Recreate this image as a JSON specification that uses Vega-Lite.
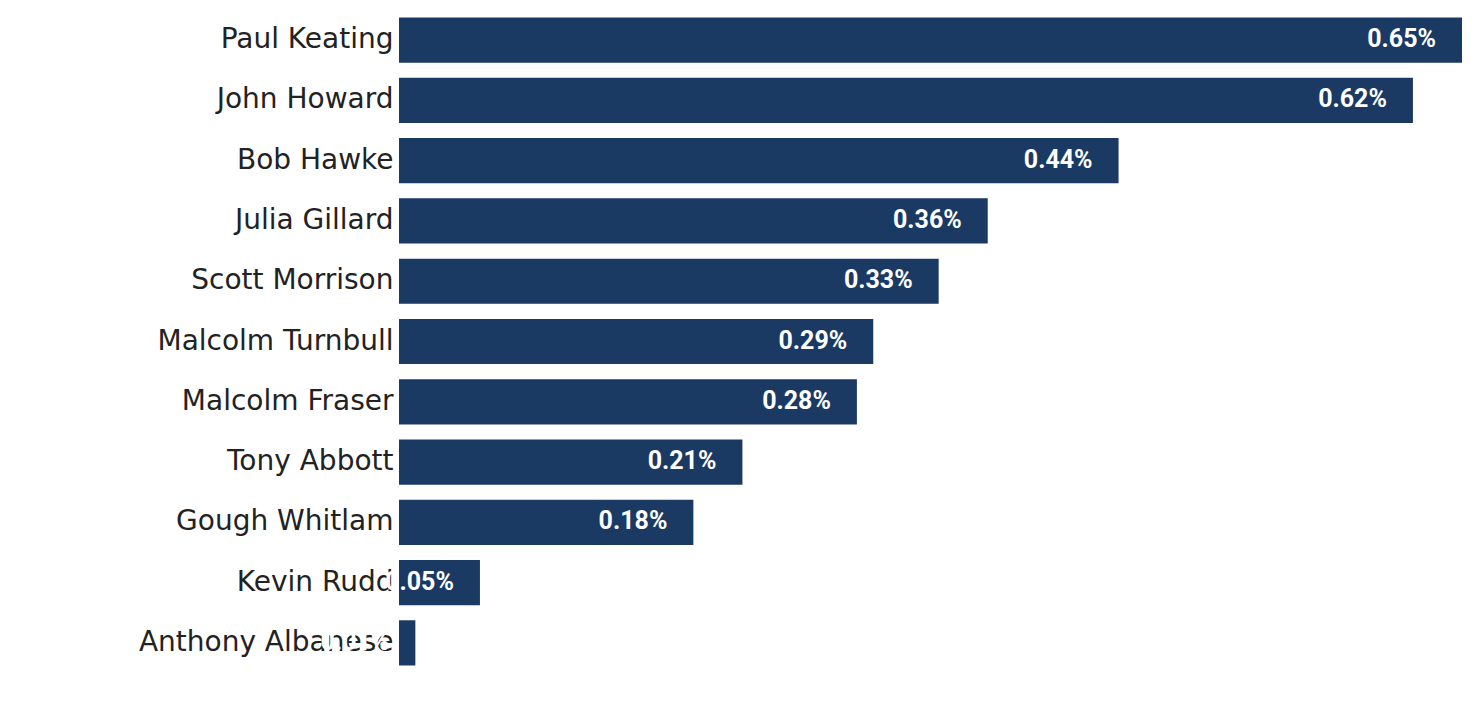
{
  "$schema": "https://vega.github.io/schema/vega-lite/v6.json",
  "width": 1063,
  "height": 663,
  "autosize": {"type": "none"},
  "padding": {"left": 399, "top": 10, "right": 14, "bottom": 28},
  "background": "white",
  "config": {"view": {"stroke": null}},
  "data": {
    "values": [
      {"pm": "Paul Keating", "share": 0.65, "label": "0.65%"},
      {"pm": "John Howard", "share": 0.62, "label": "0.62%"},
      {"pm": "Bob Hawke", "share": 0.44, "label": "0.44%"},
      {"pm": "Julia Gillard", "share": 0.36, "label": "0.36%"},
      {"pm": "Scott Morrison", "share": 0.33, "label": "0.33%"},
      {"pm": "Malcolm Turnbull", "share": 0.29, "label": "0.29%"},
      {"pm": "Malcolm Fraser", "share": 0.28, "label": "0.28%"},
      {"pm": "Tony Abbott", "share": 0.21, "label": "0.21%"},
      {"pm": "Gough Whitlam", "share": 0.18, "label": "0.18%"},
      {"pm": "Kevin Rudd", "share": 0.0495, "label": "0.05%"},
      {"pm": "Anthony Albanese", "share": 0.01, "label": "0.01%"}
    ]
  },
  "encoding": {
    "y": {
      "field": "pm",
      "type": "nominal",
      "sort": null,
      "scale": {"paddingInner": 0.25, "paddingOuter": 0.125},
      "axis": {
        "title": null,
        "domain": false,
        "ticks": false,
        "labelFont": "DejaVu Sans",
        "labelFontSize": 28,
        "labelColor": "#222222",
        "labelPadding": 6,
        "labelLimit": 400
      }
    },
    "x": {
      "field": "share",
      "type": "quantitative",
      "scale": {"domain": [0, 0.65], "nice": false},
      "axis": null
    }
  },
  "layer": [
    {"mark": {"type": "bar", "color": "#1a3a64"}},
    {
      "mark": {
        "type": "text",
        "align": "right",
        "dx": -26,
        "dy": -1,
        "color": "white",
        "font": "Roboto",
        "fontWeight": "bold",
        "fontSize": 25
      },
      "encoding": {"text": {"field": "label"}}
    }
  ]
}
